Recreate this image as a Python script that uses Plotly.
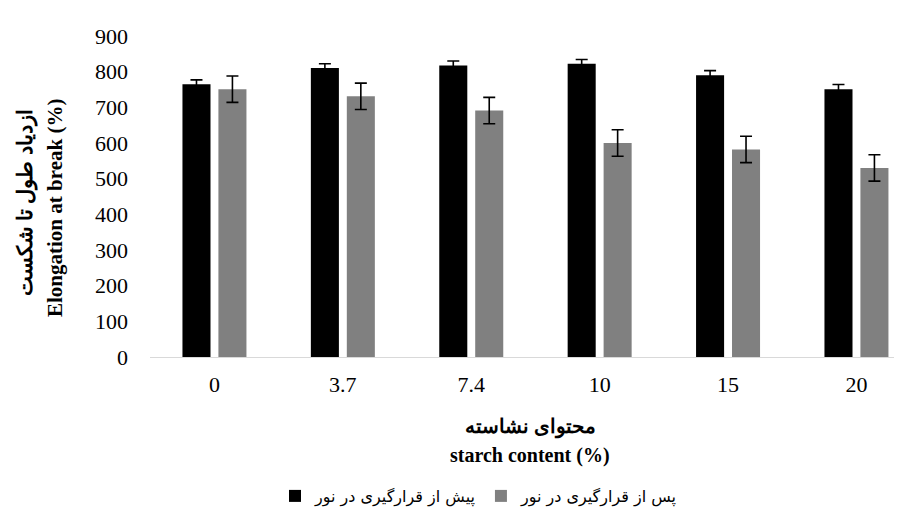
import plotly.graph_objects as go

categories = ["0", "3.7", "7.4", "10", "15", "20"]
before_light = [765, 810, 817, 822, 790, 751]
before_err = [12, 12, 13, 12, 13, 13]
after_light = [751, 731, 691, 600, 582, 530]
after_err = [37, 37, 37, 37, 37, 37]
y_ticks = [0, 100, 200, 300, 400, 500, 600, 700, 800, 900]

name_before = "پیش از قرارگیری در نور"
name_after = "پس از قرارگیری در نور"

SERIF = "Liberation Serif, Times New Roman, serif"
LEG_FONT = "DejaVu Sans, Noto Sans, sans-serif"

W, H = 902, 510
ML, MR, MT, MB = 142, 0, 28, 161
PW, PH = W - ML - MR, H - MT - MB


def px_x(px):
    return (px - ML) / PW


def px_y(py):
    return (H - MB - py) / PH


fig = go.Figure()
fig.add_trace(go.Bar(
    x=categories, y=before_light, name=name_before,
    marker=dict(color="#000000", line=dict(width=0)),
    error_y=dict(type="data", array=before_err, color="#000000", thickness=1.6, width=6),
))
fig.add_trace(go.Bar(
    x=categories, y=after_light, name=name_after,
    marker=dict(color="#808080", line=dict(width=0)),
    error_y=dict(type="data", array=after_err, color="#000000", thickness=1.6, width=6),
))

fig.update_layout(
    width=W, height=H,
    margin=dict(l=ML, r=MR, t=MT, b=MB),
    paper_bgcolor="white", plot_bgcolor="white",
    barmode="group", bargap=0.44, bargroupgap=0.22,
    font=dict(family=SERIF, size=22, color="#000000"),
    showlegend=True,
    legend=dict(
        orientation="h", xref="container", yref="container",
        x=471 / W, xanchor="center", y=1 - 488 / H, yanchor="middle",
        font=dict(family=LEG_FONT, size=16, color="#000000"),
        itemwidth=30, traceorder="normal",
    ),
    xaxis=dict(
        type="category", range=[-0.502, 5.417],
        showline=True, linecolor="#d9d9d9", linewidth=1,
        ticks="", showgrid=False, zeroline=False,
        tickfont=dict(family=SERIF, size=22),
        ticklabelstandoff=8,
    ),
    yaxis=dict(
        range=[0, 900], tickvals=y_ticks,
        showline=False, showgrid=False, zeroline=False, ticks="",
        tickfont=dict(family=SERIF, size=22),
        ticklabelstandoff=21,
    ),
)

# axis titles
fig.add_annotation(text="<b>ازدیاد طول تا شکست</b>", xref="paper", yref="paper",
                   x=px_x(18), y=px_y(195), xanchor="center", yanchor="middle",
                   textangle=-90, showarrow=False,
                   font=dict(family=SERIF, size=21))
fig.add_annotation(text="<b>Elongation at break (%)</b>", xref="paper", yref="paper",
                   x=px_x(47), y=px_y(200), xanchor="center", yanchor="middle",
                   textangle=-90, showarrow=False,
                   font=dict(family=SERIF, size=21))
fig.add_annotation(text="<b>محتوای نشاسته</b>", xref="paper", yref="paper",
                   x=px_x(522), y=px_y(419), xanchor="center", yanchor="middle",
                   showarrow=False, font=dict(family=SERIF, size=20))
fig.add_annotation(text="<b>starch content (%)</b>", xref="paper", yref="paper",
                   x=px_x(522), y=px_y(447), xanchor="center", yanchor="middle",
                   showarrow=False, font=dict(family=SERIF, size=20))

fig.write_html("out.html")
